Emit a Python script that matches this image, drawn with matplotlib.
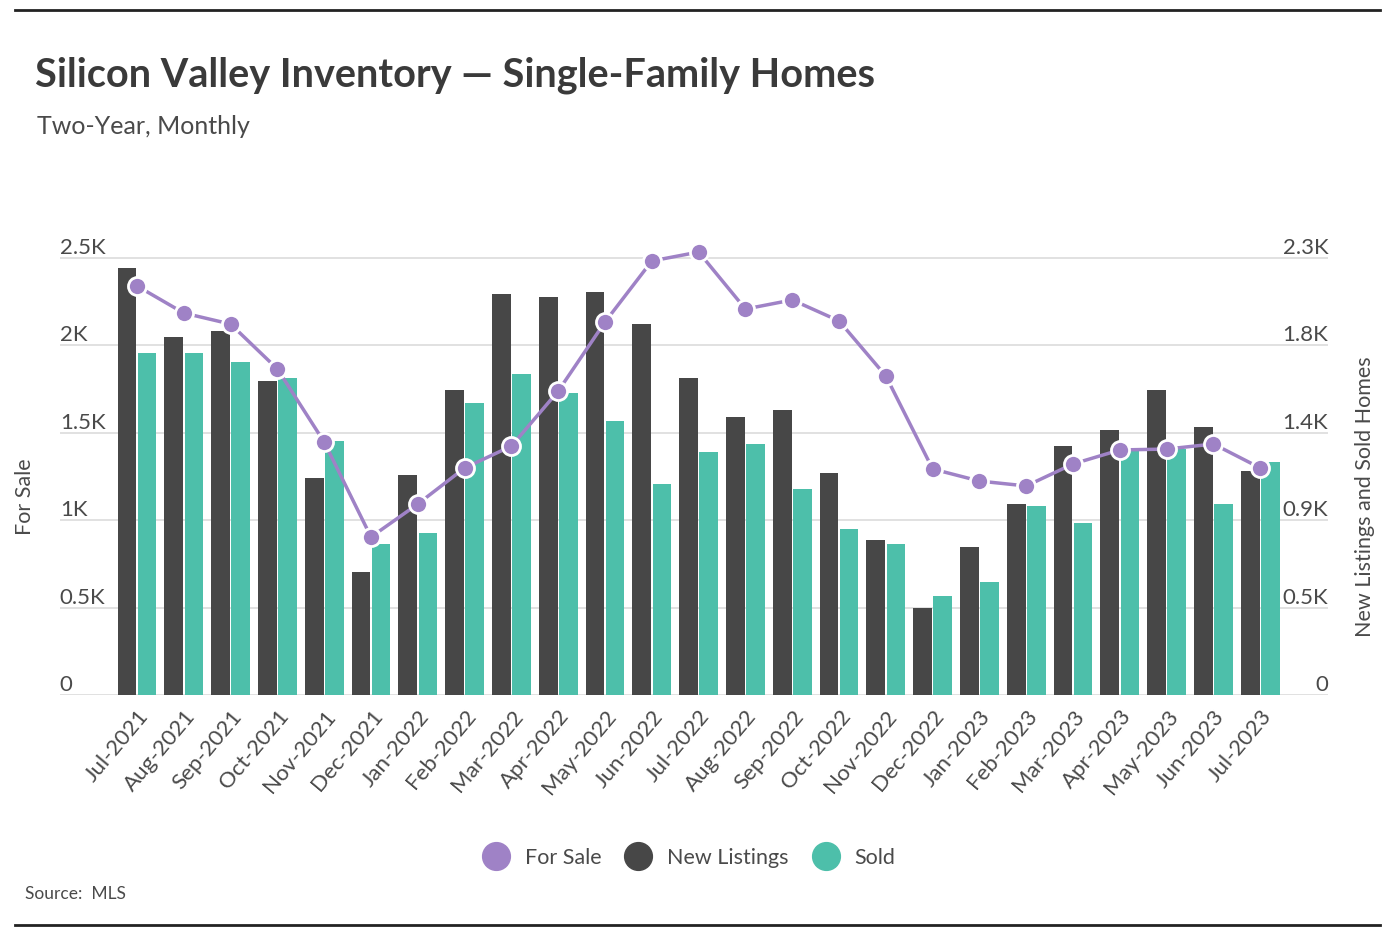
import matplotlib
matplotlib.use("Agg")
import matplotlib.pyplot as plt
from matplotlib.lines import Line2D
import numpy as np

months = ["Jul-2021", "Aug-2021", "Sep-2021", "Oct-2021", "Nov-2021", "Dec-2021",
          "Jan-2022", "Feb-2022", "Mar-2022", "Apr-2022", "May-2022", "Jun-2022",
          "Jul-2022", "Aug-2022", "Sep-2022", "Oct-2022", "Nov-2022", "Dec-2022",
          "Jan-2023", "Feb-2023", "Mar-2023", "Apr-2023", "May-2023", "Jun-2023",
          "Jul-2023"]

# left axis
for_sale = [2340, 2185, 2122, 1865, 1447, 904, 1093, 1299, 1424, 1739, 2134, 2483,
            2534, 2208, 2260, 2140, 1825, 1293, 1224, 1196, 1322, 1402, 1407, 1436,
            1299]
# right axis
new_listings = [2247, 1884, 1916, 1653, 1142, 647, 1158, 1605, 2111, 2095, 2121, 1953,
                1668, 1463, 1500, 1168, 816, 458, 779, 1005, 1311, 1395, 1605, 1411,
                1179]
sold = [1800, 1800, 1753, 1668, 1337, 795, 853, 1537, 1689, 1589, 1442, 1111,
        1279, 1321, 1084, 874, 795, 521, 595, 995, 905, 1289, 1295, 1005,
        1226]

left_ticks = [0, 500, 1000, 1500, 2000, 2500]
left_labels = ["0", "0.5K", "1K", "1.5K", "2K", "2.5K"]
right_ticks = [0, 460, 920, 1380, 1840, 2300]
right_labels = ["0", "0.5K", "0.9K", "1.4K", "1.8K", "2.3K"]

PURPLE = "#9f82c6"
DARK = "#474747"
TEAL = "#4dbfaa"
GRID = "#dedede"
TXT = "#4a4a4a"

plt.rcParams['font.family'] = ['Lato', 'DejaVu Sans']

fig = plt.figure(figsize=(13.9, 9.38), dpi=100)
ax = fig.add_axes([0.043, 0.259, 0.9125, 0.4846])  # bars, right scale
ax2 = ax.twinx()                                     # line, left scale

x = np.arange(len(months))
w = 0.40
ax.bar(x - 0.215, new_listings, w, color=DARK, zorder=2)
ax.bar(x + 0.215, sold, w, color=TEAL, zorder=2)
ax2.plot(x, for_sale, color=PURPLE, lw=2.5, marker="o", ms=13,
         mfc=PURPLE, mec="white", mew=2, zorder=3)

ax.set_xlim(-1.65, len(months) - 1 + 1.45)
ax.set_ylim(0, 2300 * 2600 / 2500)
ax2.set_ylim(0, 2600)

ax.yaxis.tick_right()
ax.yaxis.set_label_position("right")
ax2.yaxis.tick_left()
ax2.yaxis.set_label_position("left")

ax.set_yticks(right_ticks)
ax.set_yticklabels(right_labels)
ax2.set_yticks(left_ticks)
ax2.set_yticklabels(left_labels)
ax.grid(axis="y", color=GRID, lw=1.3, zorder=0)
ax.set_axisbelow(True)

ax.tick_params(axis="y", length=0, pad=0, labelsize=16, labelcolor=TXT)
ax2.tick_params(axis="y", length=0, pad=0, labelsize=16, labelcolor=TXT)
for t in ax.get_yticklabels():
    t.set_ha("right")
    t.set_va("bottom")
    t.set_y(t.get_position()[1])
for t in ax2.get_yticklabels():
    t.set_ha("left")
    t.set_va("bottom")

ax.set_xticks(x)
ax.set_xticklabels(months, rotation=50, ha="right", rotation_mode="anchor")
ax.tick_params(axis="x", length=0, pad=8, labelsize=16, labelcolor=TXT)

for a in (ax, ax2):
    for s in a.spines.values():
        s.set_visible(False)

fig.text(25 / 1390, 1 - 497 / 938, "For Sale", rotation=90, ha="center", va="center",
         fontsize=15.5, color=TXT)
fig.text(1365 / 1390, 1 - 497 / 938, "New Listings and Sold Homes", rotation=90,
         ha="center", va="center", fontsize=15.5, color=TXT)

fig.text(35 / 1390, 1 - 75 / 938, "Silicon Valley Inventory \u2014 Single-Family Homes",
         fontsize=28.5, fontweight="bold", color="#3a3a3a", va="center")
fig.text(37 / 1390, 1 - 127 / 938, "Two-Year, Monthly", fontsize=18, color=TXT,
         va="center")
fig.text(25 / 1390, 1 - 894 / 938, "Source:  MLS", fontsize=12.5, color=TXT, va="center")

handles = [Line2D([], [], ls="none", marker="o", ms=20, color=c) for c in (PURPLE, DARK, TEAL)]
fig.legend(handles, ["For Sale", "New Listings", "Sold"], loc="center",
           bbox_to_anchor=(685 / 1390, 1 - 858 / 938), ncol=3, frameon=False,
           fontsize=15.5, handletextpad=0.35, columnspacing=0.7, labelcolor=TXT)

fig.add_artist(Line2D([15 / 1390, 1380 / 1390], [1 - 10 / 938] * 2, color="#222222", lw=2))
fig.add_artist(Line2D([15 / 1390, 1380 / 1390], [1 - 925 / 938] * 2, color="#222222", lw=2))

fig.savefig("out.png", dpi=100, facecolor="white")
